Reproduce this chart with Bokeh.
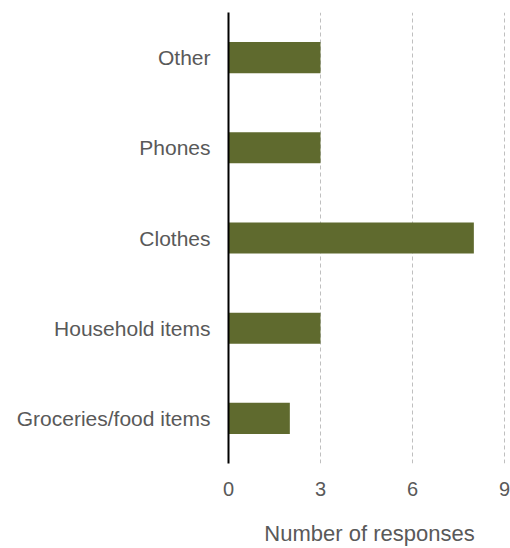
from bokeh.plotting import figure
from bokeh.models import Range1d, FixedTicker
from bokeh.embed import file_html
from bokeh.resources import INLINE

categories = ["Groceries/food items", "Household items", "Clothes", "Phones", "Other"]
values = [2, 3, 8, 3, 3]
x_ticks = [0, 3, 6, 9]
axis_title = "Number of responses"

ypos = [i + 0.5 for i in range(len(categories))]

p = figure(width=510, height=548, output_backend="svg", toolbar_location=None,
           x_range=Range1d(0, 9.195), y_range=Range1d(0, len(categories)),
           min_border_left=228, min_border_right=0, min_border_top=12, min_border_bottom=0)
p.outline_line_color = None
p.background_fill_color = "white"
p.border_fill_color = "white"

p.hbar(y=ypos, left=0, right=values, height=0.345, fill_color="#5F6A2E", line_color=None)

p.xaxis.ticker = FixedTicker(ticks=x_ticks)
p.xaxis.axis_line_color = None
p.xaxis.major_tick_line_color = None
p.xaxis.minor_tick_line_color = None
p.xaxis.major_label_text_font = "Liberation Sans"
p.xaxis.major_label_text_font_size = "20px"
p.xaxis.major_label_text_color = "#595959"
p.xaxis.major_label_standoff = 12

p.yaxis.ticker = FixedTicker(ticks=ypos)
p.yaxis.major_label_overrides = {y: c for y, c in zip(ypos, categories)}
p.yaxis.axis_line_color = "black"
p.yaxis.axis_line_width = 2
p.yaxis.major_tick_line_color = None
p.yaxis.minor_tick_line_color = None
p.yaxis.major_label_text_font = "Liberation Sans"
p.yaxis.major_label_text_font_size = "21px"
p.yaxis.major_label_text_color = "#595959"
p.yaxis.major_label_standoff = 12

p.xgrid.ticker = FixedTicker(ticks=[3, 6, 9])
p.xgrid.grid_line_color = "#BFBFBF"
p.xgrid.grid_line_dash = "4 3"
p.xgrid.grid_line_width = 1
p.ygrid.grid_line_color = None

xa = p.xaxis[0]
xa.axis_label = axis_title
xa.axis_label_align = "center"
xa.axis_label_text_font = "Liberation Sans"
xa.axis_label_text_font_size = "22px"
xa.axis_label_text_font_style = "normal"
xa.axis_label_text_color = "#595959"
xa.axis_label_standoff = 22

open("out.html", "w").write(file_html(p, INLINE))
